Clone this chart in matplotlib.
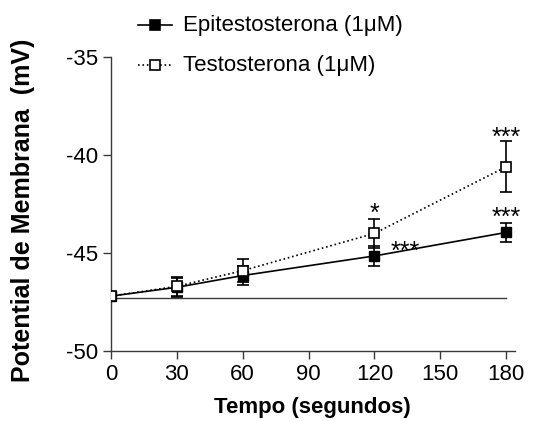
import matplotlib
matplotlib.use("Agg")
import matplotlib.pyplot as plt
from matplotlib.lines import Line2D

plt.rcParams['font.family'] = ['Liberation Sans', 'DejaVu Sans']
plt.rcParams['axes.unicode_minus'] = False

# DATA ########################################################################

tempo = [0, 30, 60, 120, 180]

epi_mean = [-47.2, -46.75, -46.15, -45.15, -43.95]
epi_err = [0.0, 0.5, 0.5, 0.5, 0.5]

testo_mean = [-47.2, -46.7, -45.9, -44.0, -40.6]
testo_err = [0.0, 0.5, 0.6, 0.75, 1.3]

baseline = -47.3

x_ticks = [0, 30, 60, 90, 120, 150, 180]
y_ticks = [-50, -45, -40, -35]

labels = ["Epitestosterona (1\u03bcM)", "Testosterona (1\u03bcM)"]

# (x, y, text, dx points, dy points)
signif = [(120, -43.25, "*", 0, 3.5),
          (180, -39.38, "***", 0, 3.5),
          (180, -43.45, "***", 0, 3.5),
          (120, -44.75, "***", 22, -3)]

# PLOT ########################################################################

W, H = 535, 421
fig = plt.figure(figsize=(W / 100, H / 100), dpi=100)
ax = fig.add_axes([111 / W, 1 - 351 / H, (515 - 111) / W, (351 - 57) / H])

spine_col = '#3a3a3a'

ax.plot([tempo[0], tempo[-1]], [baseline, baseline], color=spine_col, lw=1.0, zorder=1)

ax.errorbar(tempo, epi_mean, yerr=epi_err, color='black', lw=1.2,
            marker='s', markersize=6.5, markerfacecolor='black', markeredgecolor='black',
            capsize=4, capthick=1.2, elinewidth=1.2, zorder=3)
ax.errorbar(tempo, testo_mean, yerr=testo_err, color='black', lw=1.2, linestyle=':',
            marker='s', markersize=6.5, markerfacecolor='white', markeredgecolor='black',
            markeredgewidth=1.2, capsize=4, capthick=1.2, elinewidth=1.2, zorder=4)

for x, y, txt, dx, dy in signif:
    ax.annotate(txt, xy=(x, y), xytext=(dx, dy), textcoords='offset points',
                ha='center', va='center', fontsize=18)

ax.set_xlim(0, 184)
ax.set_ylim(-50, -35)
ax.set_xticks(x_ticks)
ax.set_yticks(y_ticks)
ax.tick_params(direction='out', length=6, width=1.0, color=spine_col, labelsize=16, pad=3)

for side in ['top', 'right']:
    ax.spines[side].set_visible(False)
for side in ['left', 'bottom']:
    ax.spines[side].set_color(spine_col)
    ax.spines[side].set_linewidth(1.0)

ax.set_xlabel("Tempo (segundos)", fontsize=16, fontweight='bold')
ax.xaxis.set_label_coords((312 - 111) / 404, (351 - 408) / 294)
ax.xaxis.label.set_va('center')
ax.set_ylabel("Potential de Membrana  (mV)", fontsize=18, fontweight='bold')
ax.yaxis.set_label_coords((23 - 111) / 404, (351 - 210) / 294)
ax.yaxis.label.set_va('center')

# legend drawn by hand at the top
legend_rows = [(25, '-', 'black'), (65, ':', 'white')]
for (ypix, ls, fc), lab in zip(legend_rows, labels):
    yf = 1 - ypix / H
    fig.add_artist(Line2D([138 / W, 172 / W], [yf, yf], color='black', lw=1.2,
                          linestyle=ls, transform=fig.transFigure))
    fig.add_artist(Line2D([155 / W], [yf], marker='s', markersize=6.5,
                          markerfacecolor=fc, markeredgecolor='black', markeredgewidth=1.2,
                          transform=fig.transFigure))
    fig.text(183 / W, yf, lab, fontsize=16, ha='left', va='center')

plt.savefig("out.png", dpi=100)
